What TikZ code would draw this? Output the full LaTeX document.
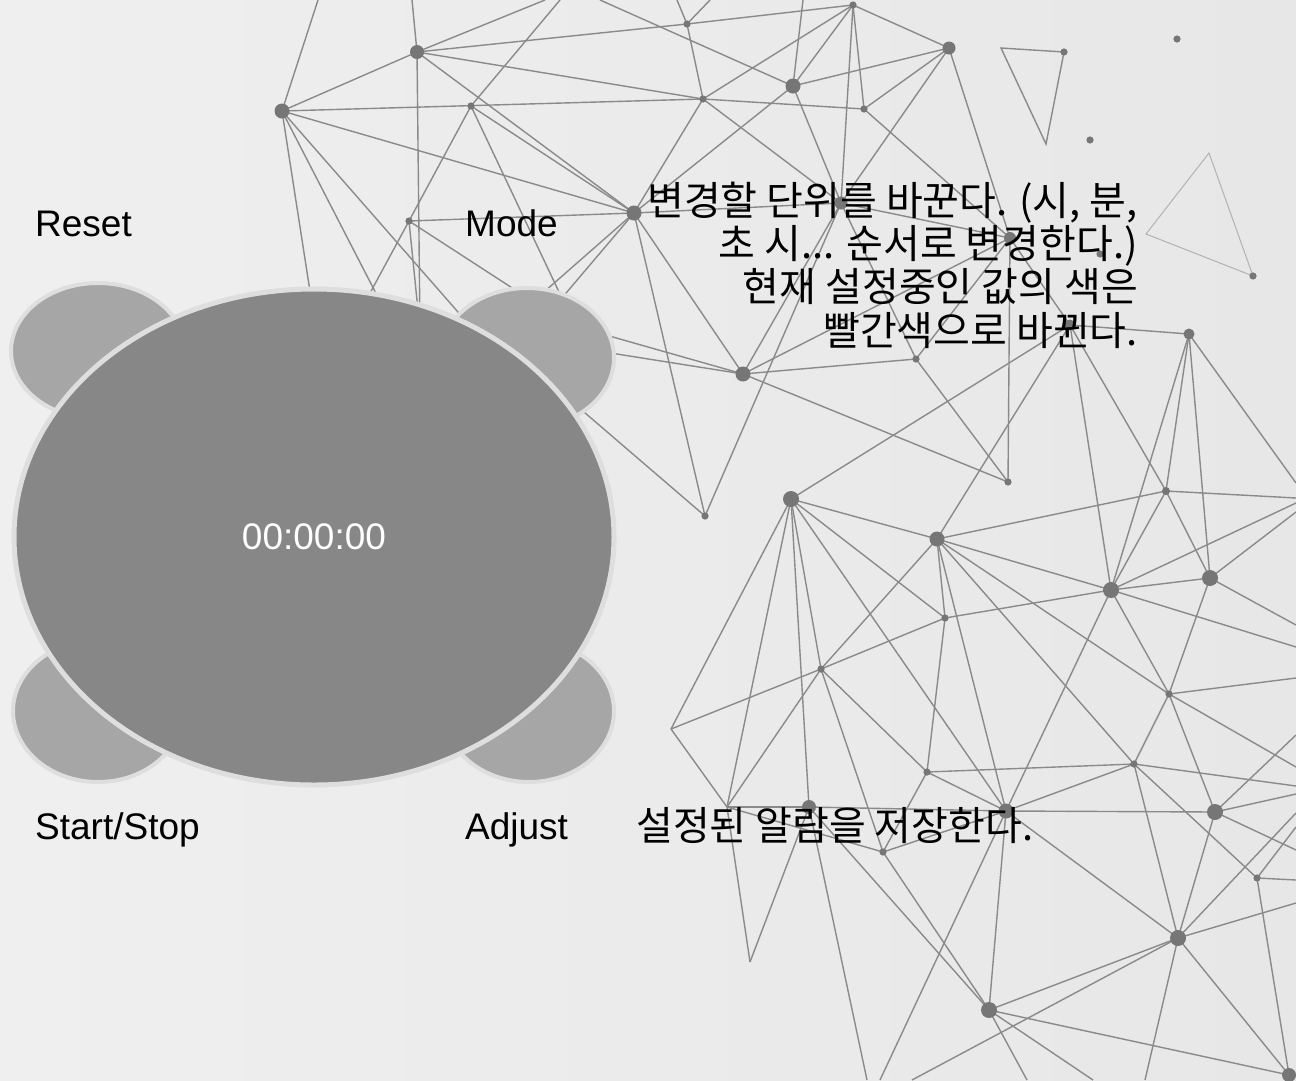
\documentclass[tikz,border=0pt]{standalone}
\usepackage{fontspec}
\setmainfont{Liberation Sans}
\newfontfamily\krfont{Noto Sans CJK KR}
\definecolor{bgl}{RGB}{239,239,239}
\definecolor{bgr}{RGB}{231,231,231}
\definecolor{netc}{RGB}{138,138,138}
\definecolor{netlc}{RGB}{178,178,178}
\definecolor{dotc}{RGB}{118,118,118}
\definecolor{mainc}{RGB}{135,135,135}
\definecolor{btnc}{RGB}{166,166,166}
\definecolor{ringc}{RGB}{222,222,222}
\begin{document}
\begin{tikzpicture}[x=1pt,y=-1pt,
  net/.style={draw=netc, line width=1.4pt},
  netlight/.style={draw=netlc, line width=1pt},
  bigdot/.style={fill=dotc},
  btn/.style={draw=ringc, line width=4pt, fill=btnc},
  dial/.style={draw=ringc, line width=5pt, fill=mainc},
  lbl/.style={inner sep=0pt, font=\fontsize{37}{44}\selectfont, text=black},
  krlbl/.style={inner sep=0pt, font=\krfont\fontsize{40}{44}\selectfont, text=black, anchor=base east}]
% background
\shade[left color=bgl, right color=bgr] (0,0) rectangle (1296,1080);
\useasboundingbox (0,0) rectangle (1296,1080);
% ---------- network coordinates ----------
\coordinate (A) at (282,111);   \coordinate (B) at (417,52);
\coordinate (C) at (471,106);   \coordinate (s2) at (409,221);
\coordinate (M) at (634,213);   \coordinate (s3) at (687,24);
\coordinate (s4) at (853,5);    \coordinate (s5) at (703,99);
\coordinate (D) at (793,86);    \coordinate (s6) at (864,109);
\coordinate (E) at (949,48);    \coordinate (R) at (841,203);
\coordinate (S) at (1010,238);  \coordinate (s7) at (1064,52);
\coordinate (s8) at (1177,39);  \coordinate (s9) at (1090,140);
\coordinate (s10) at (1253,276);\coordinate (s11) at (1100,254);
\coordinate (T) at (1070,325);  \coordinate (U) at (1189,334);
\coordinate (F) at (743,374);   \coordinate (s12) at (916,359);
\coordinate (s13) at (705,516); \coordinate (G) at (791,499);
\coordinate (H) at (937,539);   \coordinate (s14) at (1008,482);
\coordinate (s15) at (1166,491);\coordinate (I) at (1111,590);
\coordinate (J) at (1210,578);  \coordinate (s16) at (945,618);
\coordinate (s17) at (821,669); \coordinate (s18) at (927,772);
\coordinate (s19) at (883,852); \coordinate (Q) at (809,807);
\coordinate (K) at (1006,811);  \coordinate (s20) at (1169,694);
\coordinate (s21) at (1134,764);\coordinate (L) at (1215,812);
\coordinate (s22) at (1257,878);\coordinate (N) at (1178,938);
\coordinate (O) at (989,1010);  \coordinate (P) at (1289,1075);
\coordinate (v1) at (1001,48);  \coordinate (v2) at (1046,144);
\coordinate (v3) at (1209,153); \coordinate (v4) at (1146,234);
\coordinate (v5) at (671,729);  \coordinate (v6) at (727,807);
\coordinate (v7) at (750,962);
% free ends (off the edge or hidden behind the dial)
\coordinate (t1) at (318,0);  \coordinate (t2) at (412,0);
\coordinate (t3) at (545,0);  \coordinate (t4) at (560,0);
\coordinate (t5) at (600,0);  \coordinate (t6) at (803,0);
\coordinate (t7) at (677,0);  \coordinate (t8) at (710,0);
\coordinate (h1) at (330,420); \coordinate (h2) at (400,340);
\coordinate (h3) at (500,360); \coordinate (h4) at (420,330);
\coordinate (h5) at (577,330); \coordinate (h6) at (350,330);
\coordinate (h7) at (520,313); \coordinate (h7b) at (550,312);
\coordinate (h8) at (560,322); \coordinate (h9) at (560,345);
\coordinate (h10) at (570,400);
\coordinate (r1) at (1296,483); \coordinate (r2) at (1296,498);
\coordinate (r3) at (1296,503); \coordinate (r4) at (1296,647);
\coordinate (r5) at (1296,512); \coordinate (r6) at (1296,625);
\coordinate (r7) at (1296,678); \coordinate (r8) at (1296,767);
\coordinate (r9) at (1296,786); \coordinate (r10) at (1296,794);
\coordinate (r11) at (1296,850);\coordinate (r12) at (1296,735);
\coordinate (r13) at (1296,880);\coordinate (r14) at (1296,827);
\coordinate (r15) at (1296,903);\coordinate (r16) at (1296,813);
\coordinate (b1) at (1145,1080);\coordinate (b2) at (1027,1080);
\coordinate (b3) at (1093,1080);\coordinate (b4) at (912,1080);
\coordinate (b5) at (880,1080); \coordinate (b6) at (867,1080);
% ---------- network lines ----------
\foreach \a/\b in {A/t1,A/B,A/s5,A/M,A/h1,A/h2,A/h3,
  B/t2,B/t3,B/s3,B/s5,B/M,B/h4,
  C/t4,C/s2,C/M,C/h5,s2/h6,s2/h4,s2/M,s2/h5,
  s3/s4,s3/s5,s3/t7,s3/t8,
  s5/s4,s5/s6,s5/M,s5/R,
  D/t5,D/s4,D/t6,D/E,D/M,D/R,
  s4/E,s4/R,s4/s6,s6/E,s6/S,E/R,E/S,
  R/M,R/S,R/F,R/s13,R/s12,
  M/F,M/s13,M/h7,M/h7b,
  F/h8,F/h9,F/S,F/s12,F/s14,
  s12/s14,s12/S,s13/h10,S/s14,S/T,
  T/U,T/I,T/s15,T/G,T/H,
  U/I,U/s15,U/J,U/r1,
  s15/r2,s15/I,s15/J,s15/H,
  G/H,G/v5,G/v6,G/Q,G/s17,G/K,G/s16,
  H/s16,H/K,H/s17,H/I,H/s20,H/s21,
  I/J,I/r3,I/r4,I/s16,I/K,I/s20,
  J/r5,J/r6,J/s20,
  s20/r7,s20/L,s20/s21,s20/r8,
  s21/s18,s21/K,s21/r9,s21/N,s21/s22,
  L/K,L/r10,L/r11,L/r12,L/N,
  s22/r13,s22/P,s22/r14,
  N/r15,N/P,N/b1,N/O,N/K,N/b4,N/r16,
  O/K,O/Q,O/s19,O/P,O/b2,O/b3,
  K/Q,K/b5,K/s19,K/s18,
  s18/s16,s18/s17,s18/s19,
  s17/v5,s16/s17,s17/v6,s17/s19,
  v5/v6,v6/v7,v7/Q,v6/Q,v6/s19,Q/b6}
  \draw[net] (\a) -- (\b);
\draw[net] (v1) -- (s7) -- (v2) -- cycle;
\draw[netlight] (v3) -- (s10) -- (v4) -- cycle;
% ---------- dots ----------
\foreach \p/\r in {A/7.5,B/7,M/7.5,D/7.5,E/6.5,R/6.5,S/6,T/5.5,U/5.5,
  F/7.5,G/8,H/7.5,I/8,J/8,Q/7,K/7.5,L/8,N/8,O/8,P/7,s15/4}
  \fill[bigdot] (\p) circle[radius=\r pt];
\foreach \p in {C,s2,s3,s4,s5,s6,s7,s8,s9,s10,s11,s12,s13,s14,
  s16,s17,s18,s19,s20,s21,s22}
  \fill[bigdot] (\p) circle[radius=3.6pt];
% ---------- watch ----------
\draw[btn] (98,351) ellipse[x radius=87pt, y radius=68pt];
\draw[btn] (527,358) ellipse[x radius=87pt, y radius=70pt];
\draw[btn] (98,711) ellipse[x radius=85pt, y radius=71pt];
\draw[btn] (529,711) ellipse[x radius=85pt, y radius=71pt];
\draw[dial] (314,537) ellipse[x radius=300pt, y radius=248pt];
% ---------- labels ----------
\node[lbl, anchor=base west] (reset) at (35,236) {Reset};
\node[lbl, anchor=base west] (mode) at (465,236) {Mode};
\node[lbl, anchor=base west] (startstop) at (35,839) {Start/Stop};
\node[lbl, anchor=base west] (adjust) at (465,839) {Adjust};
\node[lbl, text=white, anchor=base] (time) at (314,549) {00:00:00};
\node[krlbl] (d1) at (1138,215) {변경할 단위를 바꾼다. (시, 분,};
\node[krlbl] (d2) at (1138,258) {초 시... 순서로 변경한다.)};
\node[krlbl] (d3) at (1138,301.5) {현재 설정중인 값의 색은};
\node[krlbl] (d4) at (1138,345) {빨간색으로 바뀐다.};
\node[inner sep=0pt, font=\krfont\fontsize{40}{44}\selectfont, anchor=base west] (alarm) at (636,840) {설정된 알람을 저장한다.};
\end{tikzpicture}
\end{document}
